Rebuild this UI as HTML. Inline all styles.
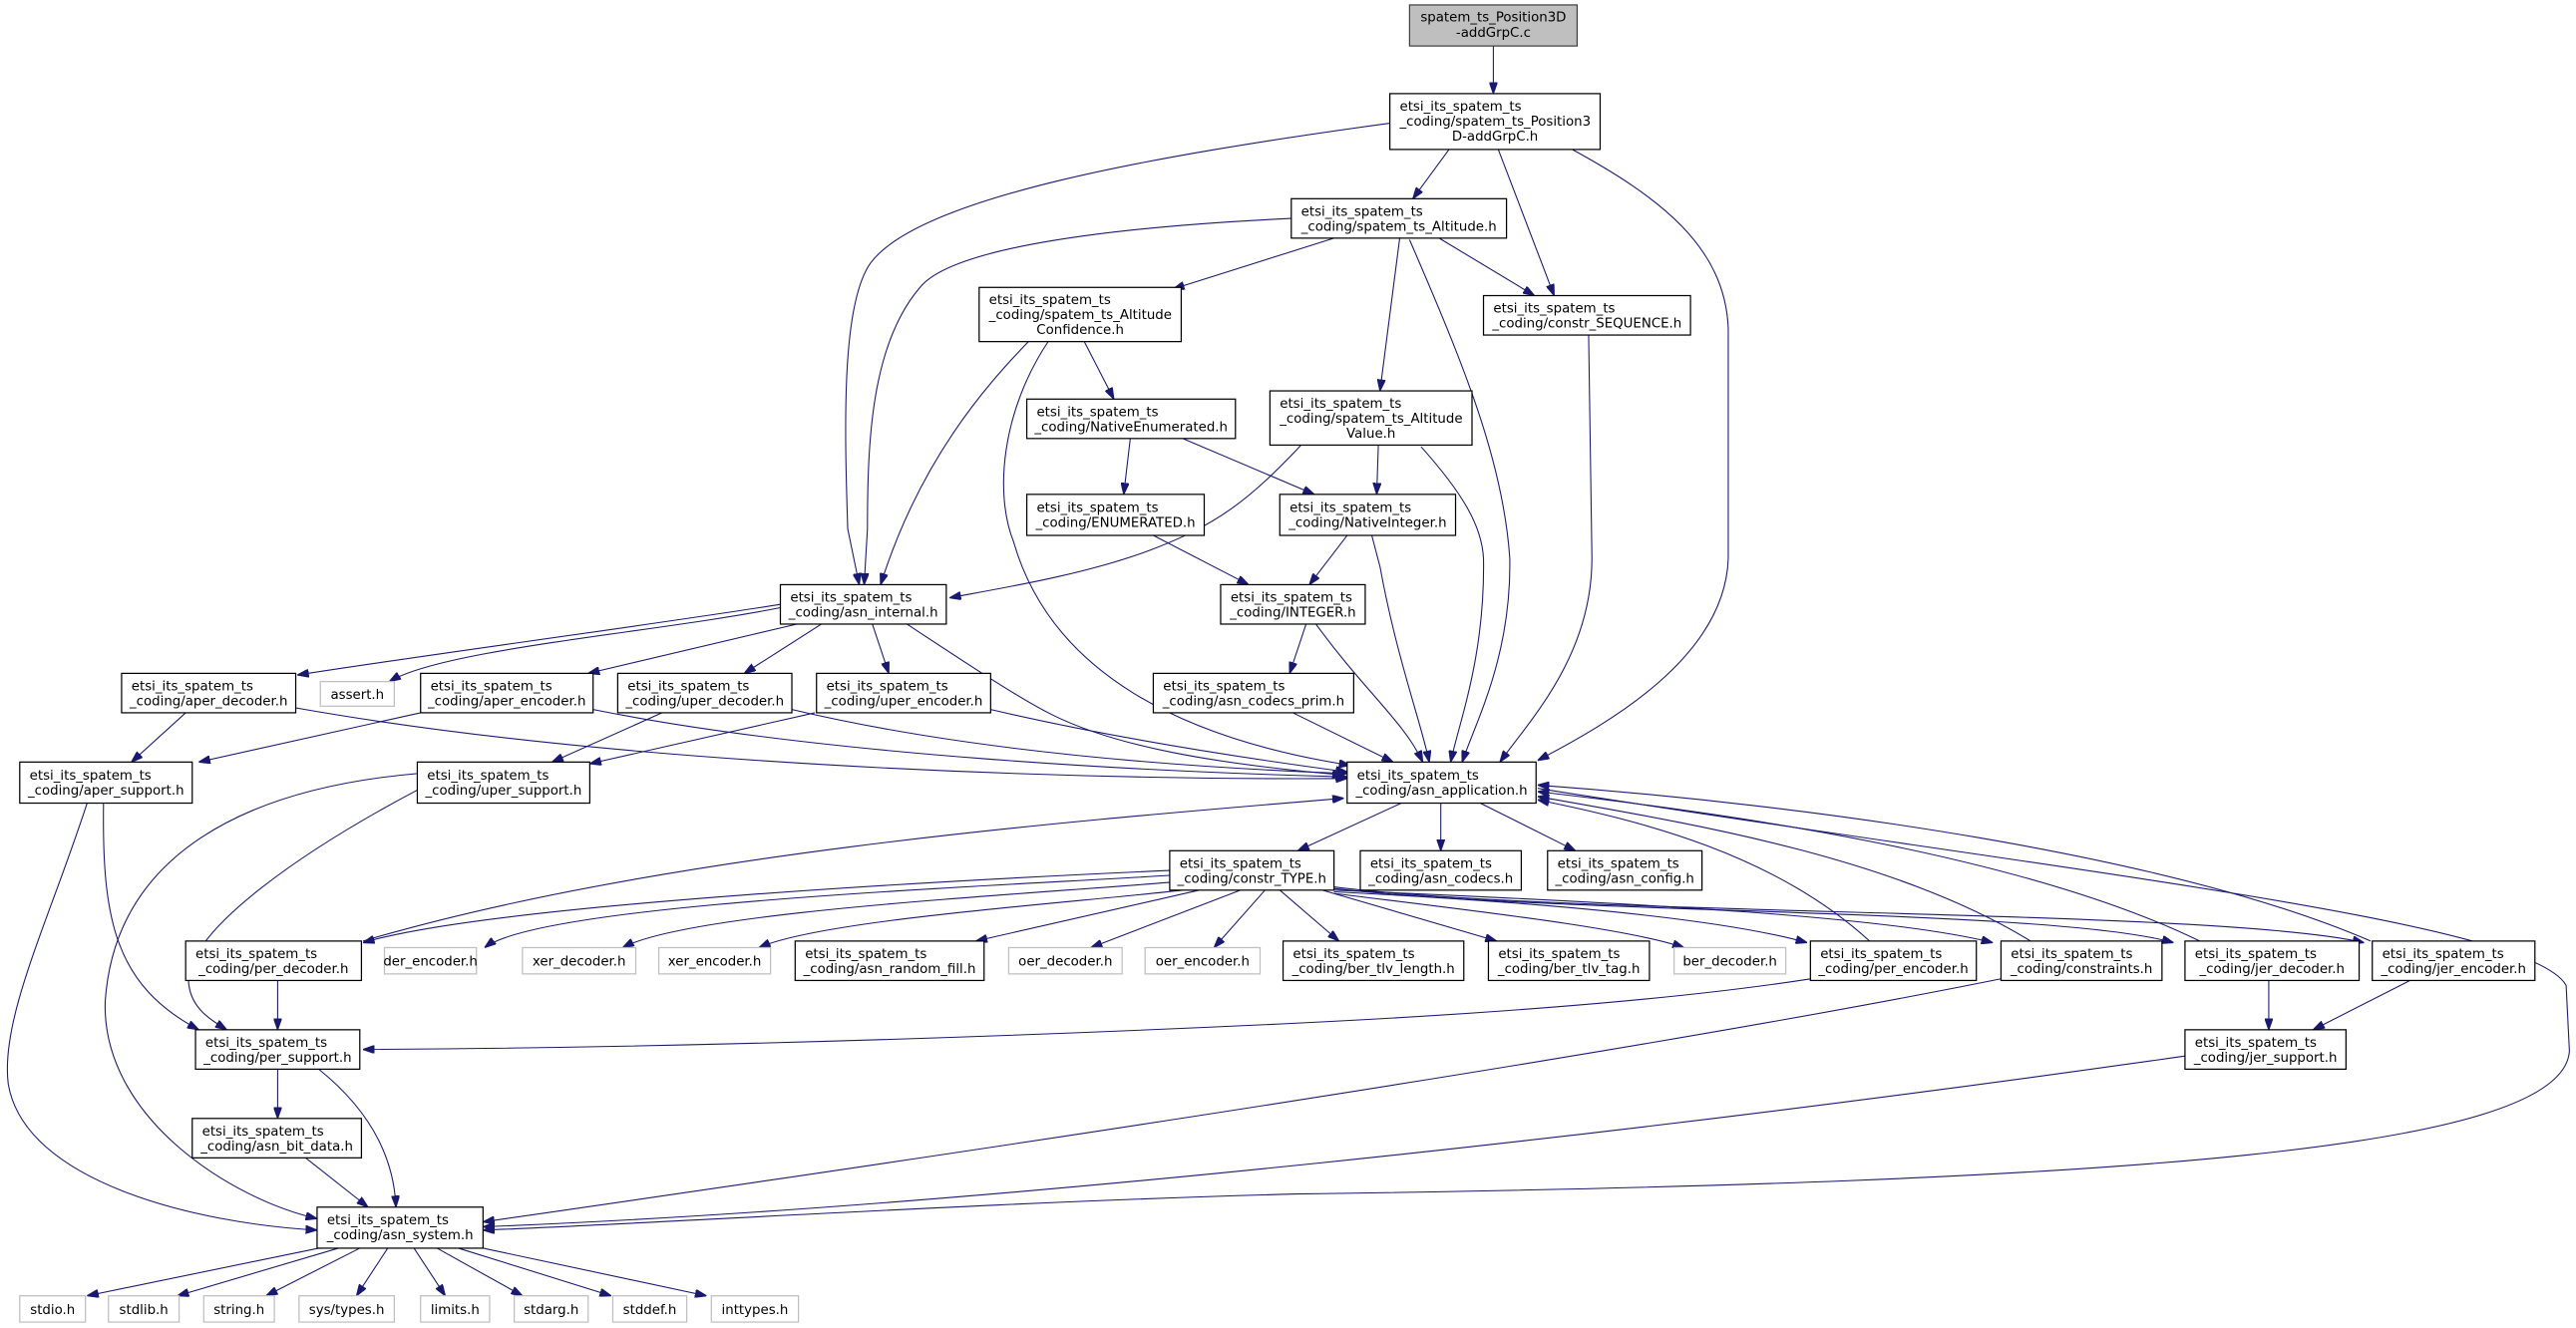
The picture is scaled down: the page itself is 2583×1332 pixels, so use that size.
<!DOCTYPE html>
<html><head><meta charset="utf-8"><style>
html,body{margin:0;padding:0;background:#fff;}
svg{display:block;}
text{font-family:"DejaVu Sans","Liberation Sans",sans-serif;font-size:8.1px;fill:#000;}
.n{fill:#fff;stroke:#000;stroke-width:0.75;}
.g{fill:#fff;stroke:#bfbfbf;stroke-width:0.75;}
.e{fill:none;stroke:#191970;stroke-width:0.65;marker-end:url(#ah);}
</style></head><body>
<svg width="2583" height="1332" viewBox="0 0 1568 808.6" xmlns="http://www.w3.org/2000/svg">
<defs><marker id="ah" markerUnits="userSpaceOnUse" markerWidth="7" markerHeight="5" viewBox="0 0 10 7" refX="10" refY="3.5" orient="auto"><path d="M0,0 L10,3.5 L0,7 z" fill="#191970" stroke="#191970"/></marker></defs>
<g>
<path class="e" d="M909,28 L909,57"/>
<path class="e" d="M846,75 C700,95 560,120 530,160 C512,185 514,260 516,322 L523,356"/>
<path class="e" d="M882,91 L860,121"/>
<path class="e" d="M912,91 L946,180"/>
<path class="e" d="M957,91 C1010,120 1050,150 1052,200 L1052,340 C1050,400 980,440 936,463"/>
<path class="e" d="M812,145 L714,176"/>
<path class="e" d="M786,133 C680,138 580,150 560,175 C530,210 528,270 528,322 L526,356"/>
<path class="e" d="M876,145 L934,180"/>
<path class="e" d="M852,145 L840,238"/>
<path class="e" d="M858,146 C890,220 915,280 919,340 C920,400 898,440 890,464"/>
<path class="e" d="M660,208 L678,243"/>
<path class="e" d="M626,208 C600,235 560,280 536,356"/>
<path class="e" d="M638,208 C610,250 605,300 617,330 C640,410 720,450 822,466"/>
<path class="e" d="M688,267 L684,301"/>
<path class="e" d="M720,267 L800,301"/>
<path class="e" d="M792,271 C760,305 740,320 700,335 C660,350 610,358 578,364"/>
<path class="e" d="M839,271 L838,301"/>
<path class="e" d="M865,272 C890,300 902,320 903,340 C904,400 888,440 883,464"/>
<path class="e" d="M967,204 L969,340 C969,400 930,440 913,464"/>
<path class="e" d="M702,326 L760,356"/>
<path class="e" d="M820,326 L797,356"/>
<path class="e" d="M835,326 L840,345 C850,400 865,440 870,464"/>
<path class="e" d="M795,380 L785,410"/>
<path class="e" d="M801,380 C830,420 855,440 866,464"/>
<path class="e" d="M787,434 L848,464"/>
<path class="e" d="M475,368 C400,380 250,400 181,411"/>
<path class="e" d="M475,370 C400,385 270,395 237,415"/>
<path class="e" d="M485,380 L358,410"/>
<path class="e" d="M500,380 L453,410"/>
<path class="e" d="M531,380 L541,410"/>
<path class="e" d="M552,380 C590,405 620,425 640,435 C680,455 740,465 818,472"/>
<path class="e" d="M113,434 L80,464"/>
<path class="e" d="M180,431 C400,470 700,475 820,474"/>
<path class="e" d="M256,434 L121,464"/>
<path class="e" d="M361,432 C500,460 700,470 820,473"/>
<path class="e" d="M403,434 L336,464"/>
<path class="e" d="M482,432 C600,460 740,468 820,471"/>
<path class="e" d="M496,434 L359,465"/>
<path class="e" d="M603,432 C680,450 760,462 820,470"/>
<path class="e" d="M53,489 C30,560 0,620 5,660 C15,720 120,745 193,749"/>
<path class="e" d="M63,489 C62,560 70,600 121,627"/>
<path class="e" d="M254,471 C150,480 70,520 64,610 C62,680 140,730 193,742"/>
<path class="e" d="M256,480 C180,520 110,570 115,600 C117,615 130,622 138,627"/>
<path class="e" d="M853,489 L790,518"/>
<path class="e" d="M877,489 L877,518"/>
<path class="e" d="M901,489 L959,518"/>
<path class="e" d="M936,480 C1250,530 1540,560 1562,600 L1564,640 C1560,700 1300,720 789,727 C600,732 400,745 294,749"/>
<path class="e" d="M712,530 C600,535 300,550 221,574"/>
<path class="e" d="M221,573 C400,520 650,500 818,486"/>
<path class="e" d="M712,533 C600,540 330,550 295,577"/>
<path class="e" d="M715,537 C620,545 420,555 379,577"/>
<path class="e" d="M720,542 C650,550 500,560 462,577"/>
<path class="e" d="M730,542 L594,573"/>
<path class="e" d="M755,542 L664,577"/>
<path class="e" d="M770,542 L739,577"/>
<path class="e" d="M779,542 L815,573"/>
<path class="e" d="M805,542 L911,573"/>
<path class="e" d="M812,544 C900,555 990,565 1025,577"/>
<path class="e" d="M812,543 C950,550 1050,560 1100,574"/>
<path class="e" d="M812,542 C1000,550 1150,558 1213,574"/>
<path class="e" d="M812,541 C950,557 1250,553 1323,574"/>
<path class="e" d="M812,540 C950,558 1350,553 1439,574"/>
<path class="e" d="M1138,573 C1080,520 1000,500 936,487"/>
<path class="e" d="M1236,573 C1150,520 1020,500 936,485"/>
<path class="e" d="M1339,573 C1230,520 1050,495 936,482"/>
<path class="e" d="M1443,573 C1320,520 1100,490 936,478"/>
<path class="e" d="M169,597 L169,627"/>
<path class="e" d="M1102,596 C1000,612 850,620 789,623 C600,632 400,638 221,639"/>
<path class="e" d="M1218,596 C1000,640 600,700 294,744"/>
<path class="e" d="M1381,597 L1381,627"/>
<path class="e" d="M1467,597 L1408,627"/>
<path class="e" d="M1330,643 C1000,690 600,735 294,747"/>
<path class="e" d="M169,651 L169,681"/>
<path class="e" d="M194,651 C230,680 240,710 241,735"/>
<path class="e" d="M186,705 L224,735"/>
<path class="e" d="M194,760 L53,789"/>
<path class="e" d="M206,760 L108,789"/>
<path class="e" d="M219,760 L162,789"/>
<path class="e" d="M236,760 L217,789"/>
<path class="e" d="M252,760 L271,789"/>
<path class="e" d="M266,760 L318,789"/>
<path class="e" d="M279,760 L372,789"/>
<path class="e" d="M294,760 L430,789"/>
</g>
<g>
<rect x="858" y="3" width="102" height="25" fill="#bfbfbf" stroke="#404040" stroke-width="0.75"/>
<text x="909" y="13" text-anchor="middle">spatem_ts_Position3D</text><text x="909" y="22.5" text-anchor="middle">-addGrpC.c</text>

<rect class="n" x="846" y="57" width="128" height="34"/>
<text x="852" y="67.3">etsi_its_spatem_ts</text><text x="852" y="76.4">_coding/spatem_ts_Position3</text><text x="910" y="85.5" text-anchor="middle">D-addGrpC.h</text>

<rect class="n" x="786" y="121" width="131" height="24"/>
<text x="792" y="131.4">etsi_its_spatem_ts</text><text x="851.5" y="140.5" text-anchor="middle">_coding/spatem_ts_Altitude.h</text>

<rect class="n" x="596" y="175" width="123" height="33"/>
<text x="602" y="185.3">etsi_its_spatem_ts</text><text x="602" y="194.4">_coding/spatem_ts_Altitude</text><text x="657.5" y="203.5" text-anchor="middle">Confidence.h</text>

<rect class="n" x="903" y="180" width="126" height="24"/>
<text x="909" y="190.4">etsi_its_spatem_ts</text><text x="966" y="199.5" text-anchor="middle">_coding/constr_SEQUENCE.h</text>

<rect class="n" x="625" y="243" width="127" height="24"/>
<text x="631" y="253.4">etsi_its_spatem_ts</text><text x="688.5" y="262.5" text-anchor="middle">_coding/NativeEnumerated.h</text>

<rect class="n" x="773" y="238" width="123" height="33"/>
<text x="779" y="248.3">etsi_its_spatem_ts</text><text x="779" y="257.4">_coding/spatem_ts_Altitude</text><text x="834.5" y="266.5" text-anchor="middle">Value.h</text>

<rect class="n" x="625" y="301" width="108" height="25"/>
<text x="631" y="311.6">etsi_its_spatem_ts</text><text x="679" y="320.7" text-anchor="middle">_coding/ENUMERATED.h</text>

<rect class="n" x="779" y="301" width="107" height="25"/>
<text x="785" y="311.6">etsi_its_spatem_ts</text><text x="832.5" y="320.7" text-anchor="middle">_coding/NativeInteger.h</text>

<rect class="n" x="475" y="356" width="101" height="24"/>
<text x="481" y="366.4">etsi_its_spatem_ts</text><text x="525.5" y="375.5" text-anchor="middle">_coding/asn_internal.h</text>

<rect class="n" x="743" y="356" width="88" height="24"/>
<text x="749" y="366.4">etsi_its_spatem_ts</text><text x="787" y="375.5" text-anchor="middle">_coding/INTEGER.h</text>

<rect class="n" x="74" y="410" width="106" height="24"/>
<text x="80" y="420.4">etsi_its_spatem_ts</text><text x="127" y="429.5" text-anchor="middle">_coding/aper_decoder.h</text>

<rect class="g" x="195" y="415" width="45" height="15"/>
<text x="217.5" y="425.5" text-anchor="middle">assert.h</text>

<rect class="n" x="256" y="410" width="105" height="24"/>
<text x="262" y="420.4">etsi_its_spatem_ts</text><text x="308.5" y="429.5" text-anchor="middle">_coding/aper_encoder.h</text>

<rect class="n" x="376" y="410" width="106" height="24"/>
<text x="382" y="420.4">etsi_its_spatem_ts</text><text x="429" y="429.5" text-anchor="middle">_coding/uper_decoder.h</text>

<rect class="n" x="497" y="410" width="106" height="24"/>
<text x="503" y="420.4">etsi_its_spatem_ts</text><text x="550" y="429.5" text-anchor="middle">_coding/uper_encoder.h</text>

<rect class="n" x="702" y="410" width="122" height="24"/>
<text x="708" y="420.4">etsi_its_spatem_ts</text><text x="763" y="429.5" text-anchor="middle">_coding/asn_codecs_prim.h</text>

<rect class="n" x="12" y="464" width="105" height="25"/>
<text x="18" y="474.6">etsi_its_spatem_ts</text><text x="64.5" y="483.7" text-anchor="middle">_coding/aper_support.h</text>

<rect class="n" x="254" y="464" width="105" height="25"/>
<text x="260" y="474.6">etsi_its_spatem_ts</text><text x="306.5" y="483.7" text-anchor="middle">_coding/uper_support.h</text>

<rect class="n" x="820" y="464" width="115" height="25"/>
<text x="826" y="474.6">etsi_its_spatem_ts</text><text x="877.5" y="483.7" text-anchor="middle">_coding/asn_application.h</text>

<rect class="n" x="712" y="518" width="100" height="24"/>
<text x="718" y="528.4">etsi_its_spatem_ts</text><text x="762" y="537.5" text-anchor="middle">_coding/constr_TYPE.h</text>

<rect class="n" x="828" y="518" width="98" height="24"/>
<text x="834" y="528.4">etsi_its_spatem_ts</text><text x="877" y="537.5" text-anchor="middle">_coding/asn_codecs.h</text>

<rect class="n" x="942" y="518" width="94" height="24"/>
<text x="948" y="528.4">etsi_its_spatem_ts</text><text x="989" y="537.5" text-anchor="middle">_coding/asn_config.h</text>

<rect class="n" x="113" y="573" width="107" height="24"/>
<text x="119" y="583.4">etsi_its_spatem_ts</text><text x="166.5" y="592.5" text-anchor="middle">_coding/per_decoder.h</text>

<rect class="g" x="234" y="577" width="56" height="16"/>
<text x="262" y="588" text-anchor="middle">der_encoder.h</text>
<rect class="g" x="318" y="577" width="69" height="16"/>
<text x="352.5" y="588" text-anchor="middle">xer_decoder.h</text>
<rect class="g" x="401" y="577" width="68" height="16"/>
<text x="435" y="588" text-anchor="middle">xer_encoder.h</text>

<rect class="n" x="484" y="573" width="115" height="24"/>
<text x="490" y="583.4">etsi_its_spatem_ts</text><text x="541.5" y="592.5" text-anchor="middle">_coding/asn_random_fill.h</text>

<rect class="g" x="614" y="577" width="69" height="16"/>
<text x="648.5" y="588" text-anchor="middle">oer_decoder.h</text>
<rect class="g" x="697" y="577" width="70" height="16"/>
<text x="732" y="588" text-anchor="middle">oer_encoder.h</text>

<rect class="n" x="781" y="573" width="110" height="24"/>
<text x="787" y="583.4">etsi_its_spatem_ts</text><text x="836" y="592.5" text-anchor="middle">_coding/ber_tlv_length.h</text>

<rect class="n" x="906" y="573" width="98" height="24"/>
<text x="912" y="583.4">etsi_its_spatem_ts</text><text x="955" y="592.5" text-anchor="middle">_coding/ber_tlv_tag.h</text>

<rect class="g" x="1019" y="577" width="68" height="16"/>
<text x="1053" y="588" text-anchor="middle">ber_decoder.h</text>

<rect class="n" x="1102" y="573" width="101" height="24"/>
<text x="1108" y="583.4">etsi_its_spatem_ts</text><text x="1152.5" y="592.5" text-anchor="middle">_coding/per_encoder.h</text>

<rect class="n" x="1218" y="573" width="98" height="24"/>
<text x="1224" y="583.4">etsi_its_spatem_ts</text><text x="1267" y="592.5" text-anchor="middle">_coding/constraints.h</text>

<rect class="n" x="1330" y="573" width="106" height="24"/>
<text x="1336" y="583.4">etsi_its_spatem_ts</text><text x="1383" y="592.5" text-anchor="middle">_coding/jer_decoder.h</text>

<rect class="n" x="1444" y="573" width="99" height="24"/>
<text x="1450" y="583.4">etsi_its_spatem_ts</text><text x="1493.5" y="592.5" text-anchor="middle">_coding/jer_encoder.h</text>

<rect class="n" x="119" y="627" width="100" height="24"/>
<text x="125" y="637.4">etsi_its_spatem_ts</text><text x="169" y="646.5" text-anchor="middle">_coding/per_support.h</text>

<rect class="n" x="1330" y="627" width="98" height="24"/>
<text x="1336" y="637.4">etsi_its_spatem_ts</text><text x="1379" y="646.5" text-anchor="middle">_coding/jer_support.h</text>

<rect class="n" x="117" y="681" width="103" height="24"/>
<text x="123" y="691.4">etsi_its_spatem_ts</text><text x="168.5" y="700.5" text-anchor="middle">_coding/asn_bit_data.h</text>

<rect class="n" x="193" y="735" width="101" height="25"/>
<text x="199" y="745.6">etsi_its_spatem_ts</text><text x="243.5" y="754.7" text-anchor="middle">_coding/asn_system.h</text>

<rect class="g" x="12" y="789" width="40" height="16"/><text x="32" y="800" text-anchor="middle">stdio.h</text>
<rect class="g" x="66" y="789" width="43" height="16"/><text x="87.5" y="800" text-anchor="middle">stdlib.h</text>
<rect class="g" x="124" y="789" width="43" height="16"/><text x="145.5" y="800" text-anchor="middle">string.h</text>
<rect class="g" x="182" y="789" width="58" height="16"/><text x="211" y="800" text-anchor="middle">sys/types.h</text>
<rect class="g" x="256" y="789" width="42" height="16"/><text x="277" y="800" text-anchor="middle">limits.h</text>
<rect class="g" x="313" y="789" width="45" height="16"/><text x="335.5" y="800" text-anchor="middle">stdarg.h</text>
<rect class="g" x="373" y="789" width="45" height="16"/><text x="395.5" y="800" text-anchor="middle">stddef.h</text>
<rect class="g" x="433" y="789" width="53" height="16"/><text x="459.5" y="800" text-anchor="middle">inttypes.h</text>
</g>
</svg>
</body></html>
